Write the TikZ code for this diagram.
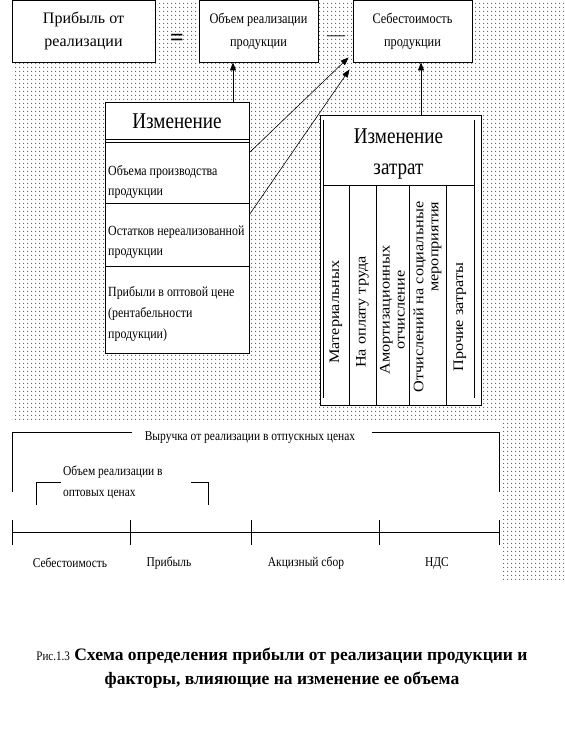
\documentclass[tikz,border=0pt]{standalone}
\usepackage{fontspec}
\setmainfont{Liberation Serif}
\newfontfamily\narrowfont[FakeStretch=0.85]{Liberation Serif}
\newfontfamily\widefont[FakeStretch=1.12]{Liberation Serif}
\usetikzlibrary{arrows.meta,patterns.meta}

\begin{document}
\begin{tikzpicture}[x=1pt,y=-1pt,
  box/.style={draw,line width=0.9pt,fill=white,inner sep=0pt,align=center},
  txt/.style={font=\narrowfont\fontsize{13.5}{20}\selectfont,inner sep=0pt},
  vtxt/.style={rotate=90,font=\widefont\fontsize{14.5}{15}\selectfont,inner sep=0pt,align=center},
  arr/.style={-{Triangle[length=8pt,width=6pt]},line width=0.6pt},
  frame/.style={line width=0.9pt}]
\useasboundingbox (0,0) rectangle (564,751);
% 点状背景
\fill[pattern={Dots[distance=4pt,radius=0.7pt]},pattern color=gray!70!black]
  (12,0) -- (564,0) -- (564,580) -- (502,580) -- (502,422) -- (12,422) -- cycle;
% 顶部公式
\node[box,minimum width=143pt,minimum height=62pt,font=\fontsize{16}{23}\selectfont] (prib) at (83.5,31) {Прибыль от\\реализации};
\node[box,minimum width=119pt,minimum height=62pt,font=\narrowfont\fontsize{14.5}{23}\selectfont] (obem) at (258.5,31) {Объем реализации\\продукции};
\node[box,minimum width=119pt,minimum height=62pt,font=\narrowfont\fontsize{14.5}{23}\selectfont] (sebes) at (412.5,31) {Себестоимость\\продукции};
\node[font=\bfseries\fontsize{24}{24}\selectfont] (eq) at (177,40) {=};
\node[font=\fontsize{18}{18}\selectfont] (minus) at (336,38) {—};
% 左框：变动
\node[box,minimum width=144pt,minimum height=251pt] (izmbox) at (177,227.5) {};
\draw[frame] (105,139) -- (249,139) (105,142) -- (249,142) (105,203) -- (249,203) (105,266) -- (249,266);
\node[font=\narrowfont\fontsize{22.5}{22}\selectfont] (izm) at (177,121) {Изменение};
\node[txt,anchor=west,align=left,font=\narrowfont\fontsize{14}{20}\selectfont] (r1) at (108,182) {Объема производства\\продукции};
\node[txt,anchor=west,align=left,font=\narrowfont\fontsize{14}{20}\selectfont] (r2) at (108,242.5) {Остатков нереализованной\\продукции};
\node[txt,anchor=west,align=left,font=\narrowfont\fontsize{14}{21}\selectfont] (r3) at (108,313.5) {Прибыли в оптовой цене\\(рентабельности\\продукции)};
% 右框：成本变动
\node[box,minimum width=161pt,minimum height=290pt] (zatr) at (400.5,260) {};
\draw[frame] (323,120) -- (323,398) (474,120) -- (474,398) (323,185) -- (474,185);
\foreach \x in {349,376,409,446} \draw[frame] (\x,185) -- (\x,405);
\node[font=\narrowfont\fontsize{22.5}{31}\selectfont,align=center] (zt) at (398.5,154) {Изменение\\затрат};
\node[vtxt] (c1) at (336,312) {Материальных};
\node[vtxt] (c2) at (362.5,312) {На оплату труда};
\node[vtxt] (c3) at (392.5,310) {Амортизационных\\отчисление};
\node[vtxt,align=right] (c4) at (427.5,297) {Отчислений на социальные\\мероприятия};
\node[vtxt] (c5) at (460,317) {Прочие затраты};
% 箭头
\coordinate (a1) at ([xshift=-25.5pt]obem.south);
\coordinate (a2) at ([xshift=8.5pt]sebes.south);
\coordinate (t1) at ([shift={(-4pt,5pt)}]sebes.south west);
\coordinate (t2) at ([shift={(-3pt,-7pt)}]sebes.south west);
\draw[arr] (izmbox.north -| a1) -- (a1);
\draw[arr] (zatr.north -| a2) -- (a2);
\draw[arr] ([yshift=-51pt]izmbox.north east) -- (t1);
\draw[arr] ([yshift=-113pt]izmbox.north east) -- (t2);
% 收入结构
\draw[frame] (12,492) -- (12,432) -- (132,432);
\draw[frame] (372,432) -- (499,432) -- (499,492);
\node[txt] (vyr) at (250,438) {Выручка от реализации в отпускных ценах};
\draw[frame] (36,505) -- (36,482) -- (61,482);
\draw[frame] (191,482) -- (208,482) -- (208,505);
\node[txt,anchor=west,align=left,font=\narrowfont\fontsize{13.5}{21}\selectfont] (opt) at (63,482.5) {Объем реализации в\\оптовых ценах};
\draw[frame] (12,532) -- (499,532);
\foreach \x in {12,130,251,379,499} \draw[frame] (\x,520) -- (\x,545);
\node[txt] (s1) at (70,563) {Себестоимость};
\node[txt] (s2) at (169,563) {Прибыль};
\node[txt] (s3) at (306,563) {Акцизный сбор};
\node[txt] (s4) at (437,563) {НДС};
% 图题
\node[font=\bfseries\fontsize{17.5}{17.5}\selectfont] (cap1) at (282,656) {{\mdseries\narrowfont\fontsize{13}{13}\selectfont Рис.1.3} Схема определения прибыли от реализации продукции и};
\node[font=\bfseries\fontsize{17.5}{17.5}\selectfont] (cap2) at (282,680) {факторы, влияющие на изменение ее объема};
\end{tikzpicture}
\end{document}
